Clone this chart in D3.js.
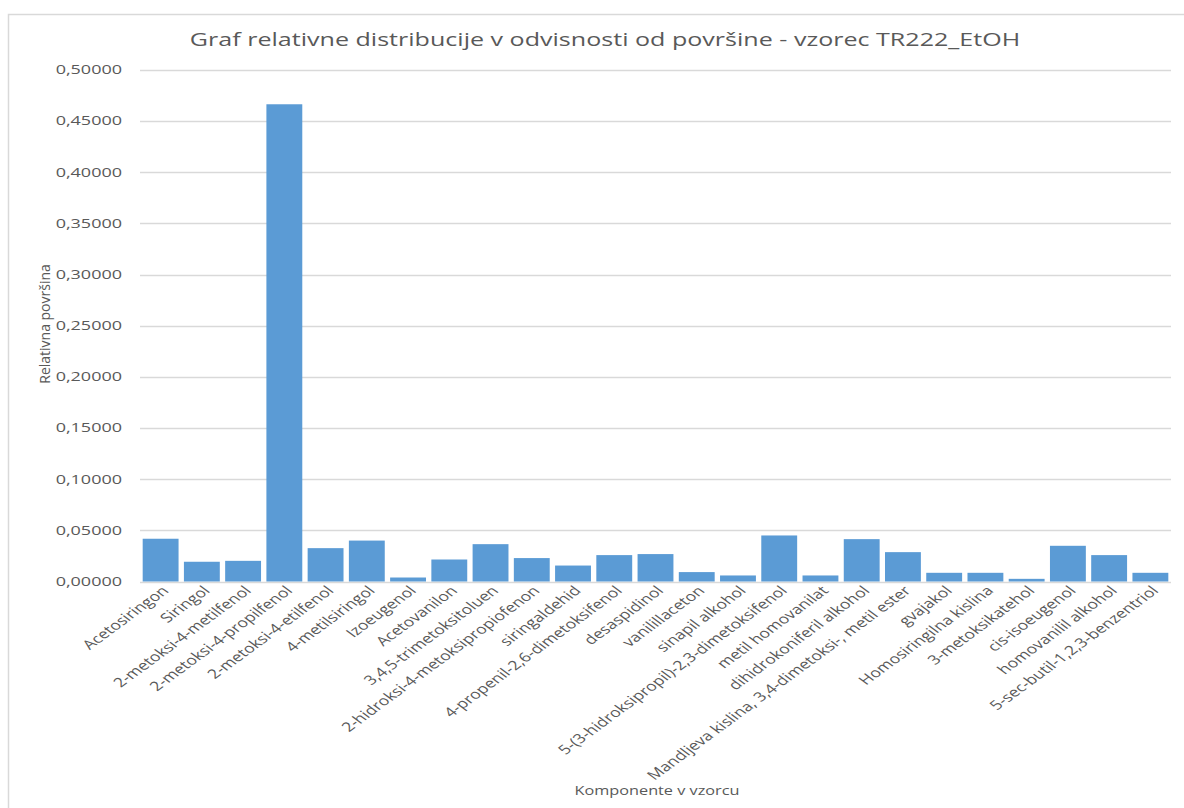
<!DOCTYPE html>
<html>
<head>
<meta charset="utf-8">
<script src="https://cdn.jsdelivr.net/npm/d3@7/dist/d3.min.js"></script>
<style>
  html, body { margin: 0; padding: 0; background: #fff; }
  svg { display: block; font-family: "Open Sans", sans-serif; }
</style>
</head>
<body>
<svg id="chart" width="1184" height="808"></svg>
<script>
// Components found in sample TR222_EtOH
const categories = [
  "Acetosiringon",
  "Siringol",
  "2-metoksi-4-metilfenol",
  "2-metoksi-4-propilfenol",
  "2-metoksi-4-etilfenol",
  "4-metilsiringol",
  "Izoeugenol",
  "Acetovanilon",
  "3,4,5-trimetoksitoluen",
  "2-hidroksi-4-metoksipropiofenon",
  "siringaldehid",
  "4-propenil-2,6-dimetoksifenol",
  "desaspidinol",
  "vanilillaceton",
  "sinapil alkohol",
  "5-(3-hidroksipropil)-2,3-dimetoksifenol",
  "metil homovanilat",
  "dihidrokoniferil alkohol",
  "Mandljeva kislina, 3,4-dimetoksi-, metil ester",
  "gvajakol",
  "Homosiringilna kislina",
  "3-metoksikatehol",
  "cis-isoeugenol",
  "homovanilil alkohol",
  "5-sec-butil-1,2,3-benzentriol"
];

// Relative peak area of each component
const relativeArea = [
  0.0418, 0.0193, 0.0202, 0.4665, 0.0326, 0.0400, 0.0039, 0.0215,
  0.0365, 0.0229, 0.0156, 0.0258, 0.0268, 0.0092, 0.0059, 0.0450,
  0.0059, 0.0414, 0.0287, 0.0085, 0.0085, 0.0026, 0.0349, 0.0258,
  0.0085
];

const yTickValues = [0, 0.05, 0.10, 0.15, 0.20, 0.25, 0.30, 0.35, 0.40, 0.45, 0.50];

const chartTitle = "Graf relativne distribucije v odvisnosti od površine - vzorec TR222_EtOH";
const yTitle = "Relativna površina";
const xTitle = "Komponente v vzorcu";

const textColor = "#595959";
const gridColor = "#d9d9d9";
const barColor = "#5b9bd5";
const labelStretch = 1.36;   // wide glyph look of the exported chart
const tickStretch = 1.5;

const svg = d3.select("#chart");

// chart frame
svg.append("rect")
  .attr("x", 8.5).attr("y", 14.5)
  .attr("width", 1200).attr("height", 820)
  .attr("fill", "#fff")
  .attr("stroke", gridColor).attr("stroke-width", 1.5);

const plot = { left: 140, right: 1171, top: 70, bottom: 581.5 };

const x = d3.scaleBand()
  .domain(categories)
  .range([plot.left, plot.right])
  .paddingInner(0.13)
  .paddingOuter(0.065);

const y = d3.scaleLinear()
  .domain([0, 0.5])
  .range([plot.bottom, plot.top]);

const fmt = v => d3.format(".5f")(v).replace(".", ",");

// horizontal gridlines
svg.append("g")
  .selectAll("line")
  .data(yTickValues)
  .join("line")
  .attr("x1", plot.left).attr("x2", plot.right)
  .attr("y1", d => Math.round(y(d)) + 0.5)
  .attr("y2", d => Math.round(y(d)) + 0.5)
  .attr("stroke", gridColor)
  .attr("stroke-width", 1.5);

// y tick labels
svg.append("g")
  .selectAll("text")
  .data(yTickValues)
  .join("text")
  .attr("transform", d => `translate(122,${y(d)}) scale(${tickStretch},1)`)
  .attr("dy", "0.36em")
  .attr("text-anchor", "end")
  .attr("font-size", 12)
  .attr("fill", textColor)
  .text(fmt);

// bars
svg.append("g")
  .selectAll("rect")
  .data(categories.map((c, i) => ({ c, v: relativeArea[i] })))
  .join("rect")
  .attr("x", d => x(d.c))
  .attr("y", d => y(d.v))
  .attr("width", x.bandwidth())
  .attr("height", d => y(0) - y(d.v))
  .attr("fill", barColor);

// category labels, rotated
svg.append("g")
  .selectAll("text")
  .data(categories)
  .join("text")
  .attr("transform", d => `translate(${x(d) + x.bandwidth() / 2 + 9},${plot.bottom + 10}) scale(${labelStretch},1) rotate(-45)`)
  .attr("text-anchor", "end")
  .attr("font-size", 13)
  .attr("fill", textColor)
  .text(d => d);

// chart title
svg.append("text")
  .attr("transform", `translate(605,46) scale(1.32,1)`)
  .attr("text-anchor", "middle")
  .attr("font-size", 19)
  .attr("fill", textColor)
  .text(chartTitle);

// y axis title
svg.append("text")
  .attr("transform", `translate(50,324) scale(1.05,1) rotate(-90)`)
  .attr("text-anchor", "middle")
  .attr("font-size", 14)
  .attr("fill", textColor)
  .text(yTitle);

// x axis title
svg.append("text")
  .attr("transform", `translate(657,795) scale(1.25,1)`)
  .attr("text-anchor", "middle")
  .attr("font-size", 13)
  .attr("fill", textColor)
  .text(xTitle);
</script>
</body>
</html>
